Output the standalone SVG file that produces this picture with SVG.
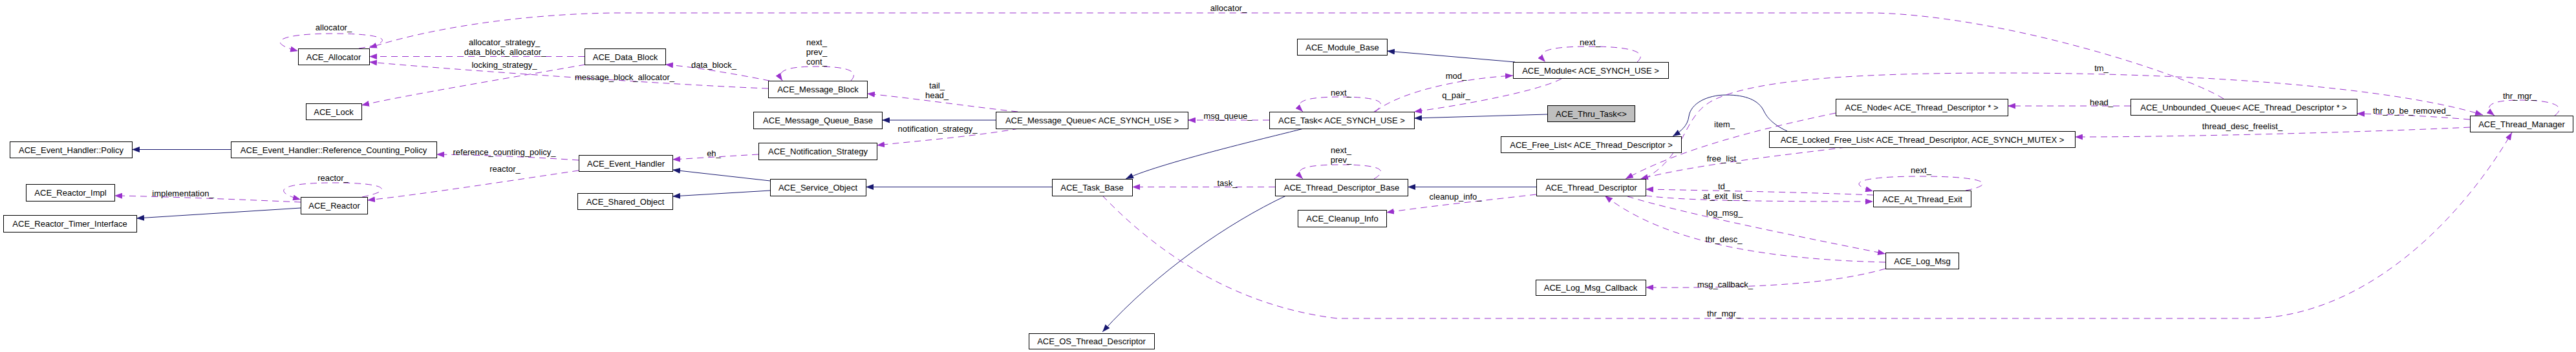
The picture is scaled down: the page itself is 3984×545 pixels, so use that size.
<svg xmlns="http://www.w3.org/2000/svg" width="3984" height="545" viewBox="0 0 3984 545">
<style>
.n rect{fill:#fff;stroke:#000;stroke-width:1}
.n.g rect{fill:#bfbfbf}
.n text,.lbl{font-family:"Liberation Sans",Arial,sans-serif;font-size:13px;text-anchor:middle;fill:#000}
.inh{stroke:#191970;fill:none;stroke-width:1;marker-end:url(#ah)}
.use{stroke:#9a32cd;fill:none;stroke-width:1;stroke-dasharray:10,7;marker-end:url(#au)}
</style>
<defs>
<marker id="ah" viewBox="0 0 12 9" refX="12" refY="4.5" markerWidth="12" markerHeight="9" orient="auto" markerUnits="userSpaceOnUse"><path d="M0,0L12,4.5L0,9z" fill="#191970"/></marker>
<marker id="au" viewBox="0 0 12 9" refX="12" refY="4.5" markerWidth="12" markerHeight="9" orient="auto" markerUnits="userSpaceOnUse"><path d="M0,0L12,4.5L0,9z" fill="#9a32cd"/></marker>
</defs>
<rect width="3984" height="545" fill="#fff"/>
<g id="connectors">
<path class="inh" d="M357,231.5 L204,231.5"/>
<path class="inh" d="M465,322 L211,338"/>
<path class="inh" d="M1191,280 L1040,263"/>
<path class="inh" d="M1191,295 L1040,304"/>
<path class="inh" d="M1540,186 L1364,186"/>
<path class="inh" d="M1627,289.5 L1339,289.5"/>
<path class="inh" d="M2016,199 C1995,205 1800,250 1741,277"/>
<path class="inh" d="M2343,96 L2145,79"/>
<path class="inh" d="M2393,177 L2187,183"/>
<path class="inh" d="M2376,289.5 L2177,289.5"/>
<path class="inh" d="M1989,303 C1900,345 1790,420 1705,514"/>
<path class="inh" d="M2764,203 C2740,192 2732,180 2728,172 C2720,155 2700,147 2670,147 C2640,147 2615,160 2612,180 C2610,195 2600,203 2587,211"/>

<path class="use" d="M555,75 C615,65 600,52 516,52 C430,52 410,66 461,79"/>
<text class="lbl" x="516" y="47">allocator_</text>
<path class="use" d="M3439,153 C3380,115 3100,25 2900,20 L950,20 C800,22 660,45 571,74"/>
<text class="lbl" x="1900" y="17">allocator_</text>
<path class="use" d="M904,87.5 L571,87.5"/>
<text class="lbl" x="780" y="69.5">allocator_strategy_</text>
<text class="lbl" x="781" y="84.5">data_block_allocator_</text>
<path class="use" d="M1188,137 C1050,132 700,108 571,96"/>
<text class="lbl" x="966" y="123.5">message_block_allocator_</text>
<path class="use" d="M905,100 C780,122 640,145 559,163"/>
<text class="lbl" x="780" y="104.5">locking_strategy_</text>
<path class="use" d="M1190,125 C1140,115 1070,103 1029,100"/>
<text class="lbl" x="1104" y="104.5">data_block_</text>
<path class="use" d="M1316,125 C1330,110 1310,103 1263,103 C1215,103 1200,110 1210,125"/>
<text class="lbl" x="1263" y="69.5">next_</text>
<text class="lbl" x="1263" y="84.5">prev_</text>
<text class="lbl" x="1263" y="99.5">cont_</text>
<path class="use" d="M1574,173 C1500,165 1420,153 1341,145"/>
<text class="lbl" x="1449" y="136.5">tail_</text>
<text class="lbl" x="1449" y="151.5">head_</text>
<path class="use" d="M1576,199 C1500,212 1420,218 1356,225"/>
<text class="lbl" x="1450" y="203.5">notification_strategy_</text>
<path class="use" d="M1963,186 L1837,186"/>
<text class="lbl" x="1899" y="183.5">msg_queue_</text>
<path class="use" d="M895,248 C820,243 750,240 675,239"/>
<text class="lbl" x="780" y="239.5">reference_counting_policy_</text>
<path class="use" d="M1173,239 L1040,247"/>
<text class="lbl" x="1104" y="241.5">eh_</text>
<path class="use" d="M895,264 C800,278 660,300 568,310"/>
<text class="lbl" x="781" y="265.5">reactor_</text>
<path class="use" d="M465,313 C400,310 250,304 177,303"/>
<text class="lbl" x="283" y="303.5">implementation_</text>
<path class="use" d="M560,305 C610,295 600,283 516,283 C430,283 420,297 465,309"/>
<text class="lbl" x="515" y="279.5">reactor_</text>
<path class="use" d="M1972,289.5 L1751,289.5"/>
<text class="lbl" x="1898" y="287.5">task_</text>
<path class="use" d="M1705,303 C1760,360 1880,470 2068,493 L3477,493 C3650,493 3800,350 3885,205"/>
<text class="lbl" x="2666" y="490">thr_mgr_</text>
<path class="use" d="M2127,173 C2160,145 2250,122 2340,117"/>
<text class="lbl" x="2252" y="121.5">mod_</text>
<path class="use" d="M2415,122 C2380,140 2280,160 2187,173"/>
<text class="lbl" x="2252" y="151.5">q_pair_</text>
<path class="use" d="M2532,96 C2550,80 2520,72 2459,72 C2390,72 2375,80 2390,96"/>
<text class="lbl" x="2459" y="69.5">next_</text>
<path class="use" d="M2125,173 C2150,158 2130,150 2074,150 C2015,150 2000,158 2015,173"/>
<text class="lbl" x="2074" y="147.5">next_</text>
<path class="use" d="M2125,277 C2150,262 2130,255 2074,255 C2015,255 2000,262 2015,277"/>
<text class="lbl" x="2074" y="236.5">next_</text>
<text class="lbl" x="2074" y="251.5">prev_</text>
<path class="use" d="M2376,301 C2300,310 2220,318 2144,329"/>
<text class="lbl" x="2251" y="308.5">cleanup_info_</text>
<path class="use" d="M2839,175 C2720,200 2600,230 2514,277"/>
<text class="lbl" x="2667" y="196.5">item_</text>
<path class="use" d="M2855,228 C2760,240 2620,255 2537,277"/>
<text class="lbl" x="2666" y="249.5">free_list_</text>
<path class="use" d="M2543,277 C2610,240 2600,180 2650,155 C2720,120 2900,113 3100,113 C3400,113 3700,135 3840,178"/>
<text class="lbl" x="3250" y="109.5">tm_</text>
<path class="use" d="M2897,302 C2800,298 2650,295 2545,293"/>
<text class="lbl" x="2666" y="292.5">td_</text>
<path class="use" d="M2545,303 C2600,310 2700,312 2897,312"/>
<text class="lbl" x="2668" y="307.5">at_exit_list_</text>
<path class="use" d="M2517,304 C2600,330 2800,370 2916,393"/>
<text class="lbl" x="2667" y="333.5">log_msg_</text>
<path class="use" d="M2916,406 C2750,402 2580,380 2482,303"/>
<text class="lbl" x="2666" y="374.5">thr_desc_</text>
<path class="use" d="M2916,416 C2850,435 2750,447 2545,445"/>
<text class="lbl" x="2668" y="444.5">msg_callback_</text>
<path class="use" d="M3040,295 C3090,285 3070,273 2971,273 C2880,273 2850,283 2897,296"/>
<text class="lbl" x="2971" y="267.5">next_</text>
<path class="use" d="M3295,164 L3105,164"/>
<text class="lbl" x="3250" y="162.5">head_</text>
<path class="use" d="M3820,197 C3700,203 3400,212 3209,212"/>
<text class="lbl" x="3468" y="199.5">thread_desc_freelist_</text>
<path class="use" d="M3820,185 C3760,180 3700,177 3645,176"/>
<text class="lbl" x="3730" y="175.5">thr_to_be_removed_</text>
<path class="use" d="M3951,179 C3970,165 3950,155 3897,155 C3850,155 3840,165 3858,179"/>
<text class="lbl" x="3897" y="152.5">thr_mgr_</text>
</g>
<g id="n_allocator" class="n"><rect x="461.5" y="75.5" width="110" height="25"/><text x="516" y="92.5">ACE_Allocator</text></g>
<g id="n_lock" class="n"><rect x="473.5" y="160.5" width="86" height="25"/><text x="516" y="177.5">ACE_Lock</text></g>
<g id="n_policy" class="n"><rect x="15.5" y="219.5" width="189" height="25"/><text x="110" y="236.5">ACE_Event_Handler::Policy</text></g>
<g id="n_rcpolicy" class="n"><rect x="357.5" y="219.5" width="318" height="25"/><text x="516" y="236.5">ACE_Event_Handler::Reference_Counting_Policy</text></g>
<g id="n_reactor_impl" class="n"><rect x="40.5" y="285.5" width="137" height="26"/><text x="109" y="303">ACE_Reactor_Impl</text></g>
<g id="n_reactor_timer" class="n"><rect x="5.5" y="333.5" width="206" height="26"/><text x="108" y="351">ACE_Reactor_Timer_Interface</text></g>
<g id="n_reactor" class="n"><rect x="465.5" y="305.5" width="103" height="26"/><text x="517" y="323">ACE_Reactor</text></g>
<g id="n_data_block" class="n"><rect x="904.5" y="75.5" width="125" height="25"/><text x="967" y="92.5">ACE_Data_Block</text></g>
<g id="n_message_block" class="n"><rect x="1188.5" y="125.5" width="153" height="26"/><text x="1265" y="143">ACE_Message_Block</text></g>
<g id="n_mq_base" class="n"><rect x="1165.5" y="173.5" width="199" height="26"/><text x="1265" y="191">ACE_Message_Queue_Base</text></g>
<g id="n_notification" class="n"><rect x="1173.5" y="221.5" width="183" height="26"/><text x="1265" y="239">ACE_Notification_Strategy</text></g>
<g id="n_event_handler" class="n"><rect x="895.5" y="240.5" width="145" height="25"/><text x="968" y="257.5">ACE_Event_Handler</text></g>
<g id="n_service_object" class="n"><rect x="1191.5" y="277.5" width="148" height="26"/><text x="1265" y="295">ACE_Service_Object</text></g>
<g id="n_shared_object" class="n"><rect x="893.5" y="299.5" width="147" height="25"/><text x="967" y="316.5">ACE_Shared_Object</text></g>
<g id="n_message_queue" class="n"><rect x="1540.5" y="173.5" width="297" height="26"/><text x="1689" y="191">ACE_Message_Queue&lt; ACE_SYNCH_USE &gt;</text></g>
<g id="n_task" class="n"><rect x="1963.5" y="173.5" width="224" height="26"/><text x="2075" y="191">ACE_Task&lt; ACE_SYNCH_USE &gt;</text></g>
<g id="n_task_base" class="n"><rect x="1627.5" y="277.5" width="124" height="26"/><text x="1689" y="295">ACE_Task_Base</text></g>
<g id="n_os_thread_desc" class="n"><rect x="1591.5" y="516.5" width="194" height="24"/><text x="1688" y="533">ACE_OS_Thread_Descriptor</text></g>
<g id="n_module_base" class="n"><rect x="2006.5" y="60.5" width="139" height="25"/><text x="2076" y="77.5">ACE_Module_Base</text></g>
<g id="n_module" class="n"><rect x="2340.5" y="96.5" width="240" height="25"/><text x="2460" y="113.5">ACE_Module&lt; ACE_SYNCH_USE &gt;</text></g>
<g id="n_thru_task" class="n g"><rect x="2393.5" y="163.5" width="135" height="25"/><text x="2461" y="180.5">ACE_Thru_Task&lt;&gt;</text></g>
<g id="n_free_list" class="n"><rect x="2321.5" y="211.5" width="279" height="25"/><text x="2461" y="228.5">ACE_Free_List&lt; ACE_Thread_Descriptor &gt;</text></g>
<g id="n_thread_desc_base" class="n"><rect x="1972.5" y="277.5" width="205" height="26"/><text x="2075" y="295">ACE_Thread_Descriptor_Base</text></g>
<g id="n_thread_desc" class="n"><rect x="2376.5" y="277.5" width="169" height="26"/><text x="2461" y="295">ACE_Thread_Descriptor</text></g>
<g id="n_cleanup_info" class="n"><rect x="2007.5" y="325.5" width="137" height="26"/><text x="2076" y="343">ACE_Cleanup_Info</text></g>
<g id="n_log_msg_callback" class="n"><rect x="2375.5" y="433.5" width="170" height="24"/><text x="2460" y="450">ACE_Log_Msg_Callback</text></g>
<g id="n_at_thread_exit" class="n"><rect x="2897.5" y="295.5" width="151" height="25"/><text x="2973" y="312.5">ACE_At_Thread_Exit</text></g>
<g id="n_log_msg" class="n"><rect x="2916.5" y="391.5" width="113" height="25"/><text x="2973" y="408.5">ACE_Log_Msg</text></g>
<g id="n_node" class="n"><rect x="2839.5" y="153.5" width="266" height="26"/><text x="2972" y="171">ACE_Node&lt; ACE_Thread_Descriptor * &gt;</text></g>
<g id="n_locked_free_list" class="n"><rect x="2736.5" y="203.5" width="473" height="25"/><text x="2973" y="220.5">ACE_Locked_Free_List&lt; ACE_Thread_Descriptor, ACE_SYNCH_MUTEX &gt;</text></g>
<g id="n_unbounded_queue" class="n"><rect x="3295.5" y="153.5" width="350" height="25"/><text x="3470" y="170.5">ACE_Unbounded_Queue&lt; ACE_Thread_Descriptor * &gt;</text></g>
<g id="n_thread_manager" class="n"><rect x="3820.5" y="179.5" width="159" height="25"/><text x="3900" y="196.5">ACE_Thread_Manager</text></g>
</svg>
